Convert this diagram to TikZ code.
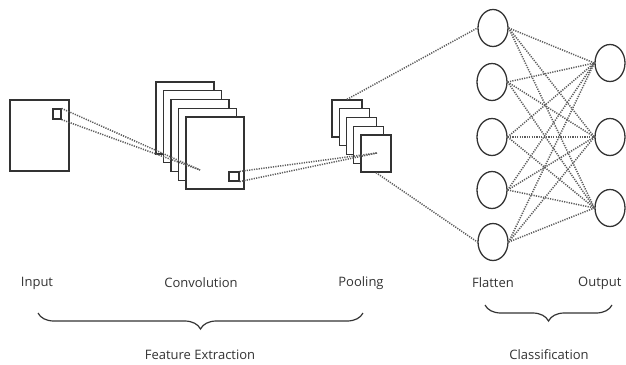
\documentclass[tikz,border=0pt]{standalone}
\usepackage{fontspec}
\setmainfont{Open Sans}
\usetikzlibrary{shapes.geometric,decorations.pathreplacing}
\definecolor{ink}{HTML}{333333}
\tikzset{
	fmap/.style    = {draw=ink, line width=1.3pt, fill=white, rectangle,
		minimum width=58pt, minimum height=72pt, inner sep=0pt},
	pmap/.style    = {fmap, minimum width=30pt, minimum height=37pt},
	kernel/.style  = {draw=ink, line width=1.2pt, rectangle, inner sep=0pt},
	neuron/.style  = {draw=ink, line width=1.3pt, ellipse, inner sep=0pt,
		minimum width=30pt, minimum height=37pt},
	link/.style    = {draw=ink!80, line width=1.5pt, dash pattern=on 1.2pt off 1.2pt},
	caption/.style = {text=ink, font=\fontsize{13}{15}\selectfont},
	group/.style   = {draw=ink, line width=1.2pt, decorate,
		decoration={brace, mirror, amplitude=16pt}}
}

\begin{document}
\begin{tikzpicture}[x=1pt, y=-1pt]
	\useasboundingbox (0,0) rectangle (626,364);
	% input image
	\draw
	node at (39.5,135.5) [fmap, minimum width=59pt, minimum height=71pt] (input) {}
	node at (57,114) [kernel, minimum width=8pt, minimum height=10pt] (ikern) {};
	% convolution and pooling maps
	\foreach \i in {0,...,4}{
		\node at (185+7.5*\i, 118+8.75*\i) [fmap] (conv\i) {};
		\node at (347+7.25*\i, 118.5+8.75*\i) [pmap] (pool\i) {};
	}
	\draw
	node at (234,176.5) [kernel, minimum width=10pt, minimum height=9pt] (ckern) {};
	\coordinate (ctgt) at (200,170);
	\coordinate (ptgt) at (377,153);
	
	% fully connected part
	\draw
	node at (493,28) [neuron] (f1) {}
	node at (492,82) [neuron] (f2) {}
	node at (492,137) [neuron] (f3) {}
	node at (492,190) [neuron] (f4) {}
	node at (493,242) [neuron] (f5) {}
	node at (610,63) [neuron] (o1) {}
	node at (610,137) [neuron] (o2) {}
	node at (610,208) [neuron] (o3) {};
	
	\draw[link](ikern.north east) -- (ctgt);
	\draw[link](ikern.south east) -- (ctgt);
	\draw[link](ckern.north east) -- (ptgt);
	\draw[link](ckern.south east) -- (ptgt);
	\draw[link](pool0.north) -- (f1.west);
	\draw[link](pool4.south) -- (f5.west);
	\foreach \a in {1,...,5}
		\foreach \b in {1,2,3}
			\draw[link](f\a.east) -- (o\b.west);
	
	% labels
	\draw
	node at (37,283) [caption] (lin) {Input}
	node at (201,283) [caption] (lconv) {Convolution}
	node at (361,283) [caption] (lpool) {Pooling}
	node at (493,283) [caption] (lflat) {Flatten}
	node at (625,283) [caption, anchor=east] (lout) {Output}
	node at (200,355) [caption] (lfeat) {Feature Extraction}
	node at (549,355) [caption] (lclass) {Classification};
	
	\coordinate (fe-a) at (38,313);
	\coordinate (fe-b) at (363,313);
	\coordinate (cl-a) at (485,305);
	\coordinate (cl-b) at (612,305);
	\draw[group](fe-a) -- (fe-b);
	\draw[group](cl-a) -- (cl-b);
\end{tikzpicture}
\end{document}
